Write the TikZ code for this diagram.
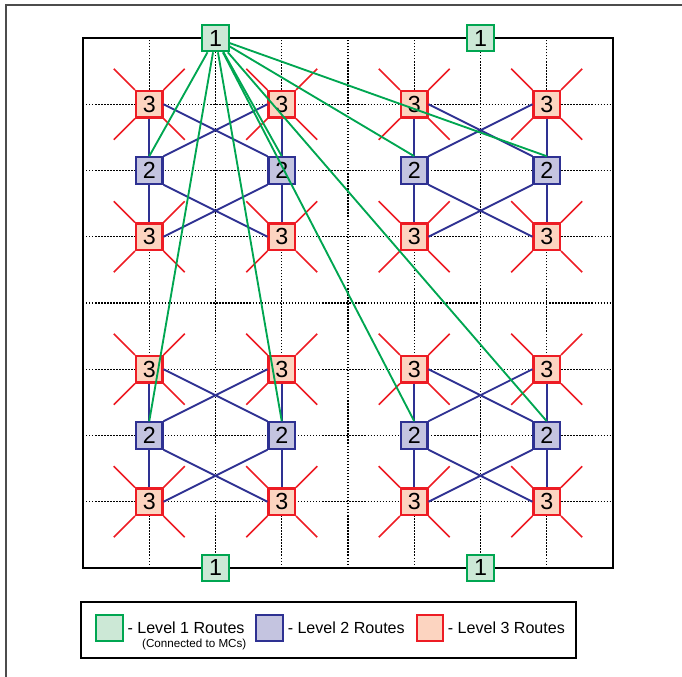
\documentclass[tikz,border=0pt]{standalone}
\usepackage{fontspec}
\setmainfont{Liberation Sans}
\usepackage{xcolor}
\usepackage{tikz}
\usetikzlibrary{positioning, calc}
\definecolor{routegreen}{RGB}{0, 166, 81}
\definecolor{lightgreen}{RGB}{204, 232, 214}
\definecolor{routeblue}{RGB}{46, 49, 146}
\definecolor{lightpurple}{RGB}{196, 196, 224}
\definecolor{routered}{RGB}{237, 28, 36}
\definecolor{lightsalmon}{RGB}{252, 212, 192}

\begin{document}
\begin{tikzpicture}[
		router/.style={line width=0.9pt, minimum size=0.4cm, inner sep=0pt, font=\fontsize{10}{10}\selectfont},
		lvlone/.style={router, draw=routegreen, fill=lightgreen},
		lvltwo/.style={router, draw=routeblue, fill=lightpurple},
		lvlthree/.style={router, draw=routered, fill=lightsalmon},
		greenlink/.style={routegreen, line width=0.8pt},
		bluelink/.style={routeblue, line width=0.8pt},
		redspoke/.style={routered, line width=0.7pt},
		gridline/.style={line width=0.6pt, dash pattern=on 0.6pt off 0.7pt},
		legendtext/.style={inner sep=0.05cm, font=\fontsize{6.9}{8}\selectfont}
	]
	\useasboundingbox (-1.253,-1.645) rectangle (9.042,8.574);

	% outer frame and mesh
	\draw[black!70, line width=0.5pt] (-1.162,-1.645) |- (9.042,8.498);
	\draw[gridline] (0,0) grid (8,8);
	\draw[line width=0.9pt] (0,0) rectangle (8,8);

	% level 1 routers
	\node[lvlone] (onenw) at (2,8) {1};
	\node[lvlone] (onene) at (6,8) {1};
	\node[lvlone] (onesw) at (2,0) {1};
	\node[lvlone] (onese) at (6,0) {1};

	% 2. level 2 and level 3 clusters
	\foreach \c/\x/\y in {a/1/6, b/5/6, c/1/2, d/5/2} {
		\node[lvlthree] (\c-tl) at (\x,\y+1) {3};
		\node[lvlthree] (\c-tr) at (\x+2,\y+1) {3};
		\node[lvltwo] (\c-ml) at (\x,\y) {2};
		\node[lvltwo] (\c-mr) at (\x+2,\y) {2};
		\node[lvlthree] (\c-bl) at (\x,\y-1) {3};
		\node[lvlthree] (\c-br) at (\x+2,\y-1) {3};

		\draw[bluelink] (\c-tl.south) -- (\c-ml.north) (\c-ml.south) -- (\c-bl.north);
		\draw[bluelink] (\c-tr.south) -- (\c-mr.north) (\c-mr.south) -- (\c-br.north);
		\draw[bluelink] (\c-tl.east) -- (\c-mr.north west) (\c-tr.west) -- (\c-ml.north east);
		\draw[bluelink] (\c-ml.south east) -- (\c-br.west) (\c-mr.south west) -- (\c-bl.east);

		\foreach \n in {tl, tr, bl, br} {
			\draw[redspoke] (\c-\n.north east) -- ++(0.32,0.32) (\c-\n.north west) -- ++(-0.32,0.32);
			\draw[redspoke] (\c-\n.south east) -- ++(0.32,-0.32) (\c-\n.south west) -- ++(-0.32,-0.32);
		}
	}

	% level 1 routes to the MCs
	\foreach \t in {a-ml, a-mr, b-ml, b-mr, c-ml, c-mr, d-ml, d-mr}
		\draw[greenlink] (onenw) -- (\t.north);

	% Legend
	\node[draw, line width=0.8pt, minimum width=7.47cm, minimum height=0.845cm, inner sep=0pt] (legend) at (3.705,-0.936) {};
	\node[lvlone] (keyone) at (0.40,-0.903) {};
	\node[lvltwo] (keytwo) at (2.818,-0.903) {};
	\node[lvlthree] (keythree) at (5.235,-0.903) {};
	\node[legendtext, right=0pt of keyone] (textone) {- Level 1 Routes};
	\node[legendtext, right=0pt of keytwo] (texttwo) {- Level 2 Routes};
	\node[legendtext, right=0pt of keythree] (textthree) {- Level 3 Routes};
	\node[anchor=base west, inner sep=0pt, font=\fontsize{5}{6}\selectfont] (mcnote) at (0.886,-1.203) {(Connected to MCs)};

\end{tikzpicture}
\end{document}
